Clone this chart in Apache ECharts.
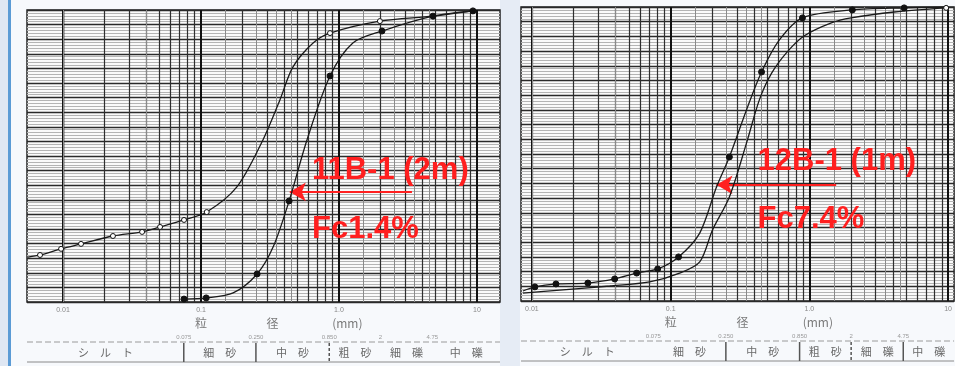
<!DOCTYPE html>
<html>
<head>
<meta charset="utf-8">
<script src="https://cdn.jsdelivr.net/npm/echarts@6/dist/echarts.min.js"></script>
<style>
html, body { margin: 0; padding: 0; background: #e6ecf5; }
#chart { width: 955px; height: 366px; }
</style>
</head>
<body>
<div id="chart"></div>
<script>
// 11B-1 (2m) sheet : grain size (mm) / passing (%)
var sizeA = [0.00557, 0.00681, 0.00968, 0.0135, 0.0230, 0.0374, 0.0505, 0.0753, 0.110, 0.182, 0.281, 0.373, 0.464, 0.649, 0.861, 1.98, 4.80, 9.35];
var passA = [15.4, 16.1, 18.2, 19.9, 22.6, 24.0, 25.7, 28.1, 30.8, 39.4, 55.5, 69.2, 80.5, 88.7, 92.1, 96.2, 97.9, 99.7];
var markA = [0, 1, 1, 1, 1, 1, 1, 1, 1, 0, 0, 0, 0, 0, 1, 1, 0, 0];

var sizeB = [0.0753, 0.109, 0.171, 0.255, 0.333, 0.435, 0.586, 0.861, 1.26, 2.05, 4.80, 9.35];
var passB = [1.0, 1.4, 3.1, 9.6, 18.8, 34.6, 55.5, 77.4, 88.7, 92.8, 97.9, 99.7];
var markB = [1, 1, 0, 1, 0, 1, 0, 1, 0, 1, 1, 1];

// 12B-1 (1m) sheet
var sizeC = [0.00861, 0.0105, 0.0149, 0.0253, 0.0395, 0.0569, 0.0806, 0.114, 0.162, 0.214, 0.265, 0.352, 0.452, 0.608, 0.891, 2.04, 4.82, 9.68];
var passC = [3.4, 4.8, 5.8, 6.1, 7.5, 9.5, 10.9, 15.0, 23.1, 38.8, 49.0, 65.0, 77.9, 88.8, 96.3, 99.0, 99.7, 100];
var markC = [0, 1, 1, 1, 1, 1, 1, 1, 0, 0, 1, 0, 1, 0, 1, 1, 1, 0];

var sizeD = [0.00861, 0.0159, 0.0364, 0.0706, 0.116, 0.162, 0.200, 0.265, 0.352, 0.436, 0.533, 0.695, 0.920, 1.44, 2.00, 4.09, 9.68];
var passD = [2.7, 3.7, 5.1, 6.5, 9.5, 13.3, 24.1, 35.4, 53.7, 68.4, 77.4, 84.8, 90.2, 94.6, 96.3, 98.3, 99.7];
var markD = [0, 0, 0, 0, 0, 0, 0, 0, 0, 0, 0, 0, 0, 0, 0, 0, 1];

var tickLabels = { '-2': '0.01', '-1': '0.1', '0': '1.0', '1': '10' };
var classBounds = [0.075, 0.25, 0.85, 2, 4.75];
var boundLabels = ['0.075', '0.250', '0.850', '2', '4.75'];
var classNames = ['シ　ル　ト', '細　砂', '中　砂', '粗　砂', '細　礫', '中　礫'];

var panels = [
    {
        title: '11B-1 (2m)', fc: 'Fc1.4%',
        left: 27, top: 10, width: 473, height: 292,
        xMin: 0.00548, xMax: 14.69,
        arrow: [[3.38, 37.7], [0.44, 37.7]],
        titleAt: [0.637, 45.2], fcAt: [0.637, 25.0],
        dividers: ['solid', 'solid', 'dashed', null, null]
    },
    {
        title: '12B-1 (1m)', fc: 'Fc7.4%',
        left: 521, top: 7, width: 434, height: 294,
        xMin: 0.00834, xMax: 11.04,
        arrow: [[1.56, 39.5], [0.214, 39.5]],
        titleAt: [0.423, 47.3], fcAt: [0.423, 27.6],
        dividers: [null, 'solid', 'solid', 'dashed', 'solid']
    }
];

// graph paper: 1..9 per decade plus half steps
function logLines(min, max) {
    var out = [];
    var steps = [1, 1.5, 2, 2.5, 3, 3.5, 4, 4.5, 5, 6, 7, 8, 9];
    for (var k = -3; k <= 2; k++) {
        steps.forEach(function (m) {
            var v = m * Math.pow(10, k);
            if (v > min && v < max) {
                var whole = m === Math.floor(m);
                out.push({
                    xAxis: v,
                    lineStyle: {
                        width: m === 1 ? 2 : (whole ? 1.2 : 1),
                        color: m === 1 ? '#111' : (whole ? '#2e2e2e' : '#8a8a8a')
                    }
                });
            }
        });
    }
    return out;
}

function curve(size, pass, mark, idx, filled) {
    return {
        type: 'line',
        xAxisIndex: idx,
        yAxisIndex: idx,
        smooth: 0.3,
        showAllSymbol: true,
        symbolSize: filled ? 6 : 5,
        data: size.map(function (d, i) {
            return { value: [d, pass[i]], symbol: mark[i] ? 'circle' : 'none' };
        }),
        itemStyle: { color: filled ? '#111' : '#fff', borderColor: '#111', borderWidth: 1 },
        lineStyle: { color: '#1a1a1a', width: 1.3 },
        animation: false,
        z: 5
    };
}

var chart = echarts.init(document.getElementById('chart'));

var option = {
    backgroundColor: 'transparent',
    animation: false,
    grid: panels.map(function (p) {
        return {
            left: p.left, top: p.top, width: p.width, height: p.height,
            show: true, backgroundColor: '#fafafa', borderColor: '#222', borderWidth: 1.5
        };
    }),
    xAxis: panels.map(function (p, i) {
        return {
            type: 'log', gridIndex: i, min: p.xMin, max: p.xMax, logBase: 10,
            axisLine: { show: false }, axisTick: { show: false },
            splitLine: { show: false },
            axisLabel: {
                fontSize: 7, color: '#888', margin: 5, fontFamily: 'Liberation Sans',
                showMinLabel: false, showMaxLabel: false,
                formatter: function (v) {
                    var e = Math.log10(v);
                    var r = Math.round(e);
                    return Math.abs(e - r) < 1e-6 ? (tickLabels[String(r)] || '') : '';
                }
            }
        };
    }),
    yAxis: panels.map(function (p, i) {
        return {
            type: 'value', gridIndex: i, min: 0, max: 100, interval: 5,
            axisLine: { show: false }, axisTick: { show: false }, axisLabel: { show: false },
            splitLine: { lineStyle: { color: '#2a2a2a', width: 1.4 } },
            minorTick: { show: false, splitNumber: 5 },
            minorSplitLine: { show: true, lineStyle: { color: '#b4b4b4', width: 1 } }
        };
    }),
    series: [
        curve(sizeA, passA, markA, 0, false),
        curve(sizeB, passB, markB, 0, true),
        curve(sizeC, passC, markC, 1, true),
        curve(sizeD, passD, markD, 1, false)
    ]
};

panels.forEach(function (p, i) {
    option.series.push({
        type: 'line', xAxisIndex: i, yAxisIndex: i, data: [], silent: true, z: 2,
        markLine: {
            silent: true, symbol: 'none', animation: false,
            label: { show: false },
            lineStyle: { type: 'solid' },
            data: logLines(p.xMin, p.xMax)
        }
    });
    option.series.push({
        type: 'line', xAxisIndex: i, yAxisIndex: i, data: [], silent: true, z: 8,
        markLine: {
            silent: true, animation: false,
            symbol: ['none', 'arrow'], symbolSize: [14, 16],
            label: { show: false },
            lineStyle: { color: '#ff2020', width: 2, type: 'solid' },
            data: [[{ coord: p.arrow[0] }, { coord: p.arrow[1] }]]
        }
    });
});

chart.setOption(option);

// texts under and over each sheet, placed through the axes
var graphics = [
    { type: 'rect', z: -10, shape: { x: 0, y: 0, width: 8, height: 366 }, style: { fill: '#dfe7f3' } },
    { type: 'rect', z: -10, shape: { x: 8, y: 0, width: 3, height: 366 }, style: { fill: '#5b9bd5' } },
    { type: 'rect', z: -10, shape: { x: 11, y: 0, width: 489, height: 366 }, style: { fill: '#f7f9fc' } },
    { type: 'rect', z: -10, shape: { x: 520, y: 0, width: 435, height: 366 }, style: { fill: '#f7f9fc' } }
];

panels.forEach(function (p, i) {
    var px = function (v) { return chart.convertToPixel({ xAxisIndex: i }, v); };
    var py = function (v) { return chart.convertToPixel({ yAxisIndex: i }, v); };
    var bottom = py(0);
    var x0 = px(p.xMin), x1 = px(p.xMax);
    var gray = '#7a7a7a';

    // axis title 粒 径 (mm)
    [['粒', 0.1], ['径', 0.33], ['(mm)', 1.15]].forEach(function (t) {
        graphics.push({
            type: 'text', x: px(t[1]), y: bottom + 21,
            style: { text: t[0], fill: gray, font: '12px "Noto Sans CJK JP"', textAlign: 'center', textVerticalAlign: 'middle' }
        });
    });

    // classification row
    graphics.push({ type: 'line', shape: { x1: x0, y1: bottom + 40, x2: x1, y2: bottom + 40 }, style: { stroke: '#9a9a9a', lineWidth: 1, lineDash: [6, 3] } });
    graphics.push({ type: 'line', shape: { x1: x0, y1: bottom + 60, x2: x1, y2: bottom + 60 }, style: { stroke: '#8a8a8a', lineWidth: 1 } });
    var edges = [x0].concat(classBounds.map(px)).concat([x1]);
    classBounds.forEach(function (b, j) {
        var bx = px(b);
        graphics.push({
            type: 'text', x: bx, y: bottom + 35,
            style: { text: boundLabels[j], fill: '#999', font: '6px "Liberation Sans"', textAlign: 'center', textVerticalAlign: 'middle' }
        });
        if (p.dividers[j]) {
            graphics.push({
                type: 'line', shape: { x1: bx, y1: bottom + 41, x2: bx, y2: bottom + 60 },
                style: { stroke: '#555', lineWidth: 1.5, lineDash: p.dividers[j] === 'dashed' ? [3, 2] : null }
            });
        }
    });
    classNames.forEach(function (n, j) {
        graphics.push({
            type: 'text', x: (edges[j] + edges[j + 1]) / 2, y: bottom + 51,
            style: { text: n, fill: '#6a6a6a', font: '11px "Noto Sans CJK JP"', textAlign: 'center', textVerticalAlign: 'middle' }
        });
    });

    // red annotation
    var t = chart.convertToPixel({ gridIndex: i }, p.titleAt);
    var f = chart.convertToPixel({ gridIndex: i }, p.fcAt);
    graphics.push({
        type: 'text', x: t[0], y: t[1], z: 20,
        style: { text: p.title, fill: '#ff1f1f', font: 'bold 31px "Liberation Sans"', textAlign: 'left', textVerticalAlign: 'middle' }
    });
    graphics.push({
        type: 'text', x: f[0], y: f[1], z: 20,
        style: { text: p.fc, fill: '#ff1f1f', font: 'bold 31px "Liberation Sans"', textAlign: 'left', textVerticalAlign: 'middle' }
    });
});

chart.setOption({ graphic: graphics });
</script>
</body>
</html>
